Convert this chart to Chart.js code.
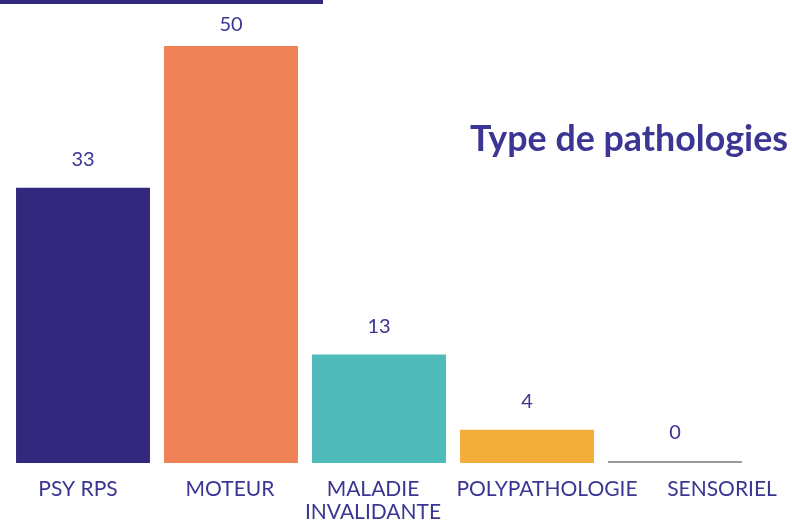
<!DOCTYPE html>
<html>
<head>
<meta charset="utf-8">
<script src="https://cdn.jsdelivr.net/npm/chart.js@4.4.0/dist/chart.umd.min.js"></script>
<style>
  html, body { margin: 0; padding: 0; background: #fff; }
  #wrap { position: relative; width: 792px; height: 521px; }
  #topline { position: absolute; left: 0; top: 0; width: 323px; height: 4px; background: #32287e; }
</style>
</head>
<body>
<div id="wrap">
  <canvas id="chart" width="792" height="521"></canvas>
  <div id="topline"></div>
</div>
<script>
'use strict';

let categories = ['PSY RPS', 'MOTEUR', ['MALADIE', 'INVALIDANTE'], 'POLYPATHOLOGIE', 'SENSORIEL'];
let values = [33, 50, 13, 4, 0];
let barColors = ['#32287e', '#ef8257', '#4fbaba', '#f3ad3a', '#9a9a9a'];
let chartTitle = 'Type de pathologies';
let textColor = '#3b3593';

// the original pushes the last labels to the right so they don't collide
let labelNudge = [-5, -1, -6, 20, 47];

// values above the bars, x labels, and title on the right
let labelPlugin = {
  id: 'labels',
  afterDatasetsDraw(chart) {
    let ctx = chart.ctx;
    let meta = chart.getDatasetMeta(0);
    let bottom = chart.chartArea.bottom;
    ctx.save();
    ctx.fillStyle = textColor;
    ctx.textAlign = 'center';
    ctx.textBaseline = 'middle';
    meta.data.forEach(function (bar, i) {
      ctx.font = '20px Lato';
      let y = Math.max(25, bar.y - 28);
      ctx.fillText(String(values[i]), bar.x, y);

      ctx.font = '21px Lato';
      let lines = [].concat(categories[i]);
      lines.forEach(function (line, j) {
        ctx.fillText(line, bar.x + labelNudge[i], bottom + 26 + j * 23);
      });
    });

    ctx.font = 'bold 34px Lato';
    let w = ctx.measureText(chartTitle).width;
    let size = 34 * 318 / w;
    ctx.font = 'bold ' + size.toFixed(1) + 'px Lato';
    ctx.textAlign = 'right';
    ctx.fillText(chartTitle, 788, 139);
    ctx.restore();
  }
};

const ctx = document.getElementById('chart');

new Chart(ctx, {
  type: 'bar',
  data: {
    labels: categories,
    datasets: [
      {
        data: values,
        backgroundColor: barColors,
        borderWidth: 0,
        categoryPercentage: 1,
        barPercentage: 0.905,
        minBarLength: 2,
      },
    ],
  },
  options: {
    responsive: false,
    animation: false,
    layout: {
      padding: { top: 46, left: 9, right: 43, bottom: 0 },
    },
    plugins: {
      legend: { display: false },
      tooltip: { enabled: false },
    },
    scales: {
      x: {
        grid: { display: false, drawTicks: false },
        border: { display: false },
        afterFit: function (scale) {
          scale.height = 58;
        },
        ticks: { display: false },
      },
      y: {
        display: false,
        min: 0,
        max: 50,
      },
    },
  },
  plugins: [labelPlugin],
});
</script>
</body>
</html>
